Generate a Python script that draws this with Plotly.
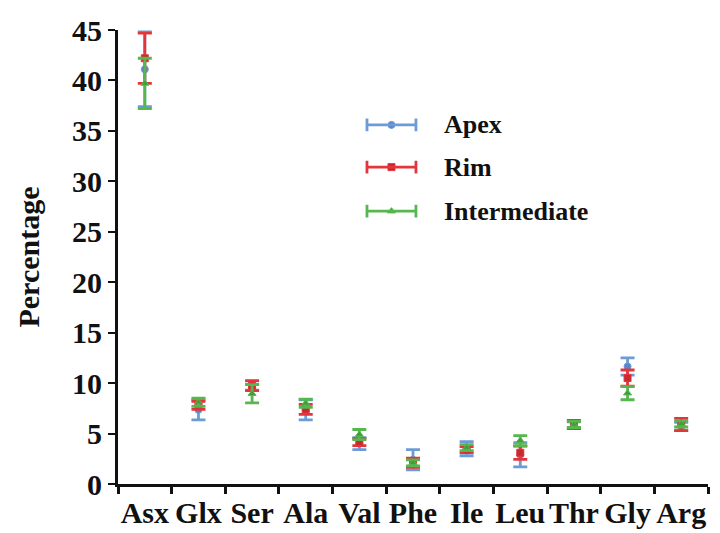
import plotly.graph_objects as go

categories = ["Asx", "Glx", "Ser", "Ala", "Val", "Phe", "Ile", "Leu", "Thr", "Gly", "Arg"]

apex_mean = [41.1, 7.35, 9.6, 7.35, 4.0, 2.4, 3.5, 2.9, 5.85, 11.65, 5.7]
apex_err = [3.7, 1.0, 0.3, 1.0, 0.6, 1.0, 0.7, 1.2, 0.3, 0.85, 0.4]

rim_mean = [42.2, 7.8, 9.75, 7.4, 4.15, 2.1, 3.4, 3.1, 5.9, 10.5, 5.9]
rim_err = [2.5, 0.4, 0.5, 0.5, 0.35, 0.45, 0.3, 0.65, 0.4, 0.8, 0.6]

int_mean = [39.7, 8.1, 8.95, 8.0, 4.9, 2.1, 3.6, 4.3, 5.9, 9.0, 5.95]
int_err = [2.5, 0.4, 0.9, 0.4, 0.5, 0.3, 0.3, 0.5, 0.3, 0.65, 0.3]

series_names = ["Apex", "Rim", "Intermediate"]
bar_colors = ["#6c9bd6", "#e2363c", "#56b74f"]
marker_colors = ["#5b86c8", "#c8282e", "#3f9e3a"]
symbols = ["circle", "square", "triangle-up"]

font_family = "Liberation Serif"

fig = go.Figure()
for name, means, errs, bc, mc, sym in zip(
    series_names, [apex_mean, rim_mean, int_mean], [apex_err, rim_err, int_err],
    bar_colors, marker_colors, symbols):
    fig.add_trace(go.Scatter(
        x=categories, y=means, mode="markers", name=name, showlegend=False,
        marker=dict(symbol=sym, size=7, color=mc, line=dict(color=bc, width=1)),
        error_y=dict(type="data", array=errs, visible=True, color=bc,
                     thickness=2.8, width=7),
    ))

# Manual legend (error-bar style glyphs)
leg_y = [0.791, 0.698, 0.601]
leg_x0, leg_x1 = 0.422, 0.505
for yy, name, bc, mc, sym in zip(leg_y, series_names, bar_colors, marker_colors, symbols):
    fig.add_shape(type="line", xref="paper", yref="paper", x0=leg_x0, x1=leg_x1,
                  y0=yy, y1=yy, line=dict(color=bc, width=2.8))
    for xe in (leg_x0, leg_x1):
        fig.add_shape(type="line", xref="paper", yref="paper", x0=xe, x1=xe,
                      y0=yy - 0.014, y1=yy + 0.014, line=dict(color=bc, width=2.8))
    fig.add_trace(go.Scatter(
        x=[(leg_x0 + leg_x1) / 2], y=[yy], xaxis="x2", yaxis="y2", mode="markers",
        showlegend=False, hoverinfo="skip",
        marker=dict(symbol=sym, size=7, color=mc, line=dict(color=bc, width=1)),
    ))
    fig.add_annotation(xref="paper", yref="paper", x=0.549, y=yy, text=name,
                       showarrow=False, xanchor="left", yanchor="middle",
                       font=dict(family=font_family, size=26, color="#111111", weight="bold"))

fig.update_layout(
    width=720, height=533,
    margin=dict(l=118, r=12, t=30, b=49),
    paper_bgcolor="white", plot_bgcolor="white",
    showlegend=False,
    font=dict(family=font_family, color="#111111"),
    xaxis=dict(
        type="category", range=[-0.5, 10.5], showgrid=False, zeroline=False,
        showline=True, linecolor="#111111", linewidth=3, automargin=False, tickangle=0,
        ticks="outside", tickson="boundaries", ticklen=7, tickwidth=3, tickcolor="#111111",
        tickfont=dict(family=font_family, size=30, color="#111111", weight="bold"),
    ),
    yaxis=dict(
        range=[0, 45], dtick=5, showgrid=False, zeroline=False, automargin=False,
        showline=True, linecolor="#111111", linewidth=3,
        ticks="outside", ticklen=7, tickwidth=2, tickcolor="#111111",
        tickfont=dict(family=font_family, size=30, color="#111111", weight="bold"),
        title=dict(text="Percentage", standoff=24,
                   font=dict(family=font_family, size=30, color="#111111", weight="bold")),
    ),
    xaxis2=dict(overlaying="x", range=[0, 1], visible=False, domain=[0, 1], anchor="y2"),
    yaxis2=dict(overlaying="y", range=[0, 1], visible=False, domain=[0, 1], anchor="x2"),
)

fig.write_html("out.html")
